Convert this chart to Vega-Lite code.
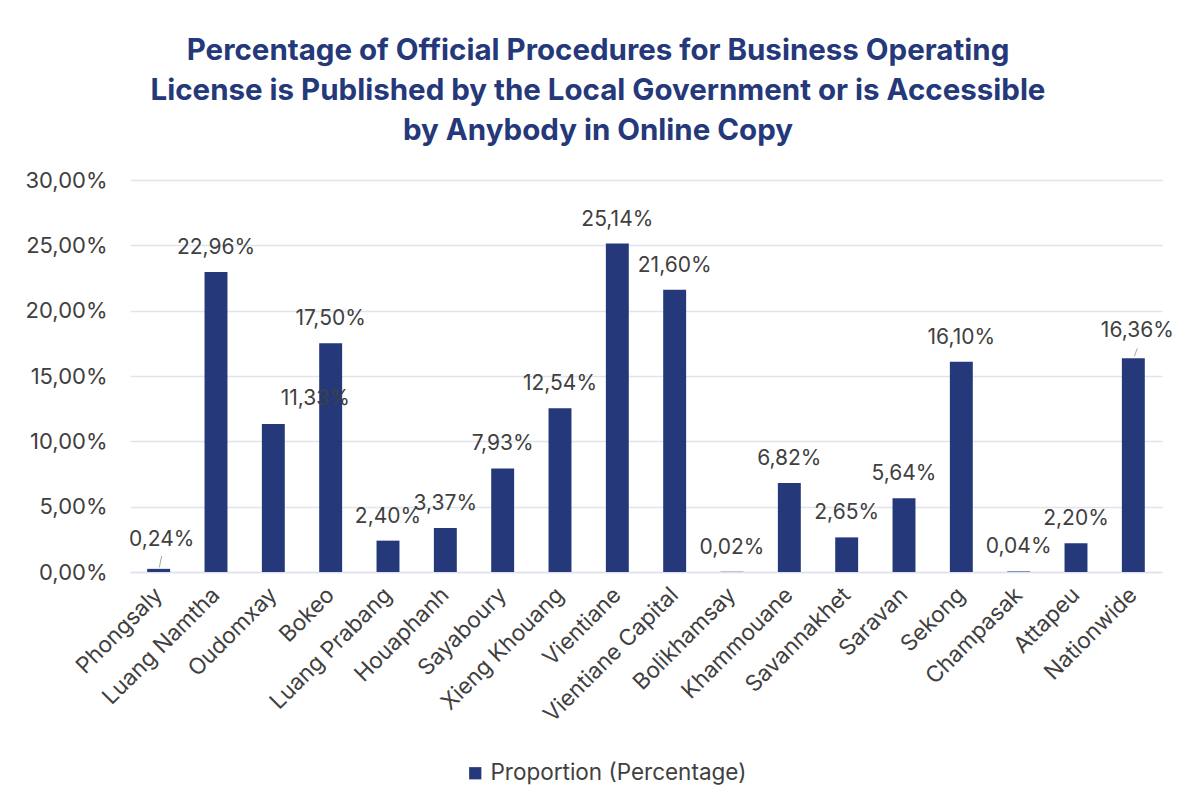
{
  "$schema": "https://vega.github.io/schema/vega-lite/v6.json",
  "autosize": "none",
  "width": 1032,
  "height": 392,
  "padding": {"left": 130, "top": 180, "right": 21, "bottom": 233},
  "background": "white",
  "config": {
    "locale": {"number": {"decimal": ",", "thousands": ".", "grouping": [3], "currency": ["", " €"]}},
    "font": "Inter",
    "view": {"stroke": null}
  },
  "title": {
    "text": ["Percentage of Official Procedures for Business Operating", "License is Published by the Local Government or is Accessible", "by Anybody in Online Copy"],
    "fontSize": 29.5,
    "fontWeight": 700,
    "color": "#24387a",
    "lineHeight": 40,
    "anchor": "middle",
    "dx": -48,
    "offset": 23,
    "font": "Inter"
  },
  "data": {
    "values": [
      {"province": "Phongsaly", "value": 0.0024},
      {"province": "Luang Namtha", "value": 0.2296},
      {"province": "Oudomxay", "value": 0.1133},
      {"province": "Bokeo", "value": 0.1750},
      {"province": "Luang Prabang", "value": 0.0240},
      {"province": "Houaphanh", "value": 0.0337},
      {"province": "Sayaboury", "value": 0.0793},
      {"province": "Xieng Khouang", "value": 0.1254},
      {"province": "Vientiane", "value": 0.2514},
      {"province": "Vientiane Capital", "value": 0.2160},
      {"province": "Bolikhamsay", "value": 0.0002},
      {"province": "Khammouane", "value": 0.0682},
      {"province": "Savannakhet", "value": 0.0265},
      {"province": "Saravan", "value": 0.0564},
      {"province": "Sekong", "value": 0.1610},
      {"province": "Champasak", "value": 0.0004},
      {"province": "Attapeu", "value": 0.0220},
      {"province": "Nationwide", "value": 0.1636}
    ]
  },
  "encoding": {
    "x": {
      "field": "province",
      "type": "nominal",
      "sort": null,
      "scale": {"paddingInner": 0.6, "paddingOuter": 0.3},
      "axis": {
        "title": null,
        "domain": true,
        "domainColor": "#dfe1ee",
        "domainWidth": 1.5,
        "ticks": false,
        "labelAngle": -45,
        "labelAlign": "right",
        "labelBaseline": "middle",
        "labelFontSize": 22.5,
        "labelColor": "#404040",
        "labelPadding": 19,
        "labelFont": "Inter",
        "labelLimit": 300
      }
    },
    "y": {
      "field": "value",
      "type": "quantitative",
      "scale": {"domain": [0, 0.3]},
      "axis": {
        "title": null,
        "values": [0, 0.05, 0.1, 0.15, 0.2, 0.25, 0.3],
        "format": ".2%",
        "grid": true,
        "gridColor": "#e1e3ef",
        "gridWidth": 1.5,
        "domain": false,
        "ticks": false,
        "labelFontSize": 22,
        "labelColor": "#404040",
        "labelPadding": 23,
        "labelFont": "Inter"
      }
    }
  },
  "layer": [
    {
      "mark": {"type": "bar"},
      "encoding": {
        "color": {
          "datum": "Proportion (Percentage)",
          "scale": {"range": ["#24387a"]},
          "legend": {
            "orient": "none",
            "legendX": 334,
            "legendY": 582,
            "title": null,
            "direction": "horizontal",
            "symbolType": "square",
            "symbolSize": 150,
            "symbolStrokeWidth": 0,
            "labelFontSize": 22.5,
            "labelColor": "#404040",
            "labelFont": "Inter",
            "labelOffset": 4,
            "labelLimit": 400
          }
        }
      }
    },
    {
      "transform": [{"filter": "datum.province != 'Phongsaly' && datum.province != 'Oudomxay' && datum.province != 'Nationwide'"}],
      "mark": {"type": "text", "baseline": "middle", "dy": -24, "fontSize": 21, "color": "#404040", "font": "Inter"},
      "encoding": {"text": {"field": "value", "type": "quantitative", "format": ".2%"}}
    },
    {
      "transform": [{"filter": "datum.province == 'Phongsaly'"}],
      "mark": {"type": "text", "baseline": "middle", "dx": 3, "dy": -29, "fontSize": 21, "color": "#404040", "font": "Inter"},
      "encoding": {"text": {"field": "value", "type": "quantitative", "format": ".2%"}}
    },
    {
      "transform": [{"filter": "datum.province == 'Oudomxay'"}],
      "mark": {"type": "text", "baseline": "middle", "dx": 42, "dy": -25, "fontSize": 21, "color": "#404040", "font": "Inter"},
      "encoding": {"text": {"field": "value", "type": "quantitative", "format": ".2%"}}
    },
    {
      "transform": [{"filter": "datum.province == 'Nationwide'"}],
      "mark": {"type": "text", "baseline": "middle", "dx": 4, "dy": -27, "fontSize": 21, "color": "#404040", "font": "Inter"},
      "encoding": {"text": {"field": "value", "type": "quantitative", "format": ".2%"}}
    },
    {
      "transform": [{"filter": "datum.province == 'Phongsaly'"}],
      "mark": {"type": "rule", "color": "#a6a6a6", "strokeWidth": 1, "xOffset": 3, "yOffset": -13, "x2Offset": 0.7, "y2Offset": -1.5},
      "encoding": {
        "x2": {"field": "province"},
        "y2": {"field": "value"}
      }
    },
    {
      "transform": [{"filter": "datum.province == 'Nationwide'"}],
      "mark": {"type": "rule", "color": "#a6a6a6", "strokeWidth": 1, "xOffset": 4, "yOffset": -10, "x2Offset": 1, "y2Offset": -2},
      "encoding": {
        "x2": {"field": "province"},
        "y2": {"field": "value"}
      }
    }
  ]
}
